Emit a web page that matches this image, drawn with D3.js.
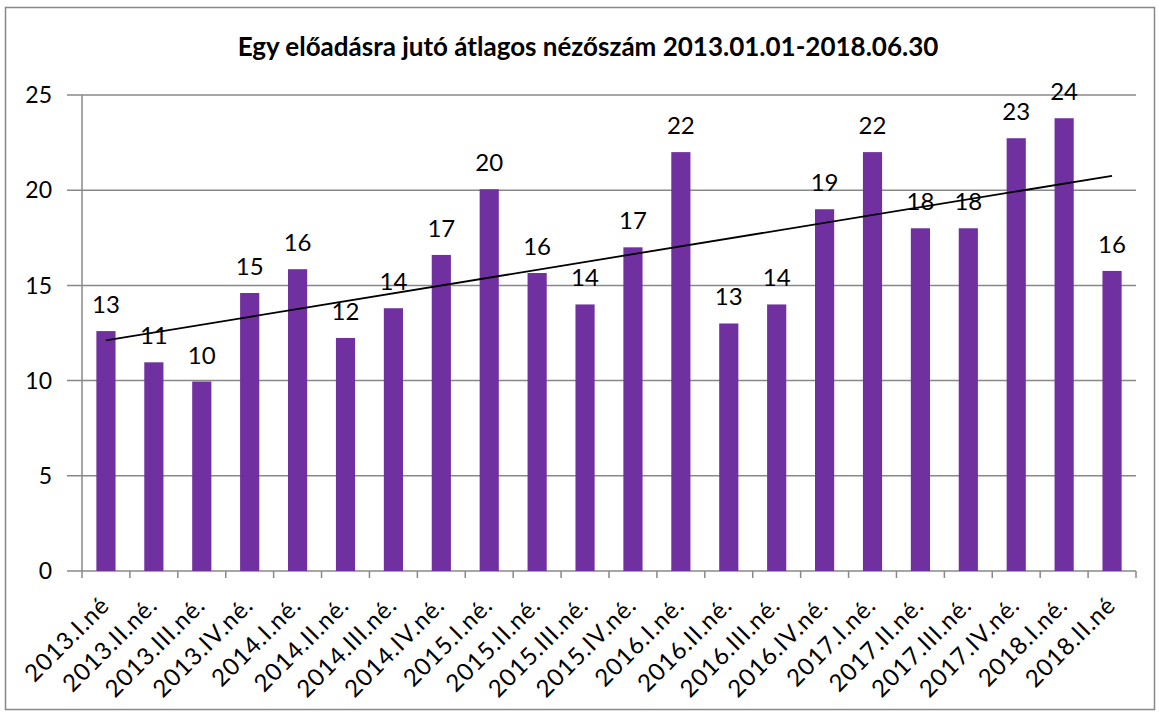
<!DOCTYPE html>
<html>
<head>
<meta charset="utf-8">
<script src="https://cdn.jsdelivr.net/npm/d3@7"></script>
<style>
  body { margin: 0; background: #fff; }
  text { font-family: Lato, "Open Sans", sans-serif; fill: #000; }
</style>
</head>
<body>
<svg id="chart" width="1159" height="713"></svg>
<script>
// negyedéves adatok
const categories = ["2013.I.né", "2013.II.né.", "2013.III.né.", "2013.IV.né.", "2014.I.né.", "2014.II.né.",
  "2014.III.né.", "2014.IV.né.", "2015.I.né.", "2015.II.né.", "2015.III.né.", "2015.IV.né.",
  "2016.I.né.", "2016.II.né.", "2016.III.né.", "2016.IV.né.", "2017.I.né.", "2017.II.né.",
  "2017.III.né.", "2017.IV.né.", "2018.I.né.", "2018.II.né"];
const values = [12.6, 10.96, 9.95, 14.6, 15.85, 12.24, 13.8, 16.6, 20.05, 15.65, 14.0, 17.0,
  22.0, 13.0, 14.0, 19.0, 22.0, 18.0, 18.0, 22.73, 23.78, 15.76];
const yTicks = [0, 5, 10, 15, 20, 25];
const title = "Egy előadásra jutó átlagos nézőszám 2013.01.01-2018.06.30";

const svg = d3.select("#chart");
const margin = {left: 82, right: 23, top: 95, bottom: 142};
const W = 1159, H = 713;

// keret
svg.append("rect")
  .attr("x", 5.5).attr("y", 7.5)
  .attr("width", 1149).attr("height", 702)
  .attr("fill", "none").attr("stroke", "#888").attr("stroke-width", 1.5);

svg.append("text")
  .attr("x", 588).attr("y", 56)
  .attr("text-anchor", "middle")
  .attr("font-size", 26).attr("font-weight", "bold")
  .text(title);

const x = d3.scaleBand().domain(categories)
  .range([margin.left, W - margin.right]).paddingInner(0.6).paddingOuter(0.3);
const band = d3.scaleBand().domain(categories).range([margin.left, W - margin.right]);
const y = d3.scaleLinear().domain([0, 25]).range([H - margin.bottom, margin.top]);

// rácsvonalak
svg.append("g").selectAll("line").data(yTicks).join("line")
  .attr("x1", margin.left - 15).attr("x2", W - margin.right)
  .attr("y1", d => y(d)).attr("y2", d => y(d))
  .attr("stroke", "#888").attr("stroke-width", 1.5);

svg.append("g").selectAll("text").data(yTicks).join("text")
  .attr("x", 52).attr("y", d => y(d)).attr("dy", "0.36em")
  .attr("text-anchor", "end").attr("font-size", 23)
  .text(d => d);

// tengelyek
svg.append("line")
  .attr("x1", margin.left).attr("x2", margin.left)
  .attr("y1", y(25)).attr("y2", y(0))
  .attr("stroke", "#888").attr("stroke-width", 1.5);

const xTickPos = categories.map(c => band(c)).concat([W - margin.right]);
svg.append("g").selectAll("line").data(xTickPos).join("line")
  .attr("x1", d => d).attr("x2", d => d)
  .attr("y1", y(0)).attr("y2", y(0) + 7)
  .attr("stroke", "#888").attr("stroke-width", 1.5);

// oszlopok
svg.append("g").selectAll("rect").data(values).join("rect")
  .attr("x", (d, i) => x(categories[i]))
  .attr("width", x.bandwidth())
  .attr("y", d => y(d))
  .attr("height", d => y(0) - y(d))
  .attr("fill", "#7030a0");

// adatcímkék
svg.append("g").selectAll("text").data(values).join("text")
  .attr("x", (d, i) => x(categories[i]) + x.bandwidth() / 2)
  .attr("y", d => y(d) - 18)
  .attr("text-anchor", "middle").attr("font-size", 24)
  .text(d => Math.round(d));

// lineáris trendvonal
const n = values.length;
const xs = d3.range(1, n + 1);
const mx = d3.mean(xs), my = d3.mean(values);
const slope = d3.sum(xs, (v, i) => (v - mx) * (values[i] - my)) / d3.sum(xs, v => (v - mx) ** 2);
const icpt = my - slope * mx;
const center = i => band(categories[i]) + band.bandwidth() / 2;
svg.append("line")
  .attr("x1", center(0)).attr("y1", y(icpt + slope * 1))
  .attr("x2", center(n - 1)).attr("y2", y(icpt + slope * n))
  .attr("stroke", "#000").attr("stroke-width", 1.8);

// kategória feliratok
svg.append("g").selectAll("text").data(categories).join("text")
  .attr("transform", (d, i) => `translate(${center(i) - 1},${y(0) + 30}) rotate(-45)`)
  .attr("text-anchor", "end").attr("dy", "0.35em").attr("font-size", 24)
  .attr("letter-spacing", 0.9)
  .text(d => d);
</script>
</body>
</html>
